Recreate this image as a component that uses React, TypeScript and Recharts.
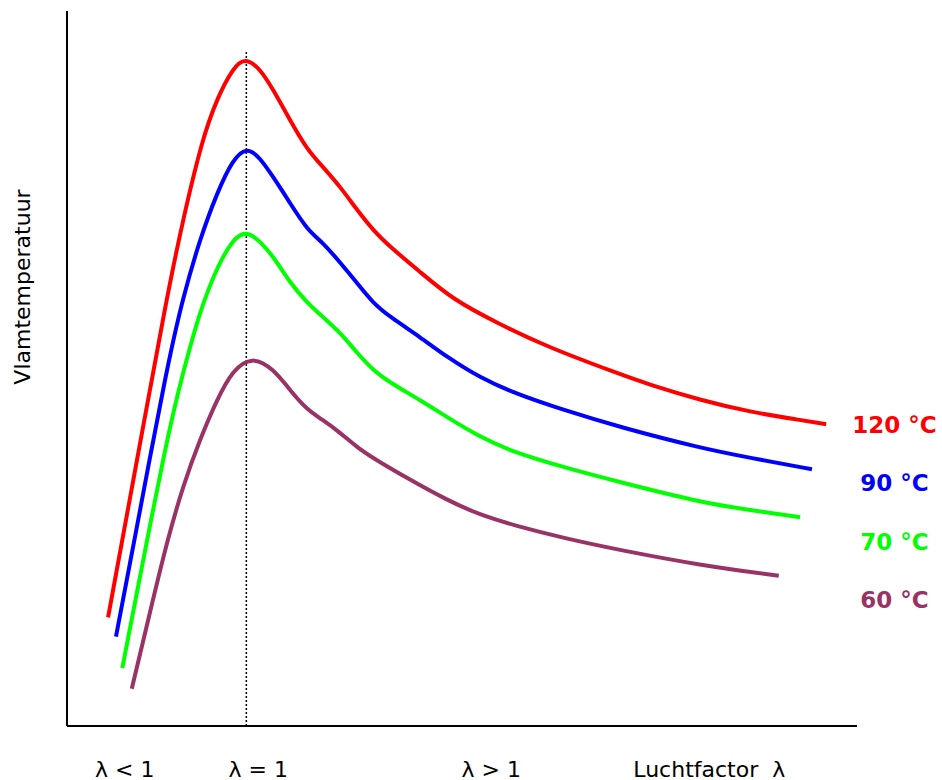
import React from 'react'
import { LineChart, Line, XAxis, YAxis, ReferenceLine, ReferenceDot } from 'recharts'

// x: luchtfactor positie (0-100), y: relatieve vlamtemperatuur (0-100)
const line120 = [
  { x: 5.2, y: 15.2 }, { x: 8.4, y: 34.4 }, { x: 12.7, y: 60.4 }, { x: 14.7, y: 70.9 },
  { x: 17.1, y: 82.0 }, { x: 19.0, y: 87.8 }, { x: 21.0, y: 92.0 }, { x: 22.5, y: 93.5 },
  { x: 24.4, y: 92.0 }, { x: 26.1, y: 89.0 }, { x: 28.2, y: 84.8 }, { x: 30.4, y: 80.6 },
  { x: 32.4, y: 78.2 }, { x: 34.6, y: 75.4 }, { x: 36.7, y: 72.2 }, { x: 38.7, y: 69.4 },
  { x: 40.9, y: 67.0 }, { x: 44.7, y: 63.5 }, { x: 48.9, y: 59.6 }, { x: 54.4, y: 56.4 },
  { x: 60.8, y: 53.0 }, { x: 70.0, y: 49.2 }, { x: 73.8, y: 47.7 }, { x: 80.1, y: 45.6 },
  { x: 86.5, y: 43.9 }, { x: 92.8, y: 42.8 }, { x: 96.1, y: 42.2 },
]

const line90 = [
  { x: 6.2, y: 12.5 }, { x: 8.4, y: 25.2 }, { x: 12.7, y: 50.5 }, { x: 14.7, y: 60.0 },
  { x: 16.8, y: 68.0 }, { x: 19.0, y: 74.6 }, { x: 21.0, y: 79.3 }, { x: 22.8, y: 81.0 },
  { x: 24.4, y: 79.5 }, { x: 26.1, y: 76.8 }, { x: 28.2, y: 73.2 }, { x: 30.4, y: 69.4 },
  { x: 32.4, y: 67.6 }, { x: 34.6, y: 64.8 }, { x: 36.7, y: 62.0 }, { x: 38.7, y: 59.2 },
  { x: 40.9, y: 57.2 }, { x: 44.7, y: 54.4 }, { x: 48.1, y: 51.6 }, { x: 52.3, y: 48.7 },
  { x: 56.5, y: 46.6 }, { x: 62.8, y: 44.2 }, { x: 70.0, y: 41.8 }, { x: 80.1, y: 38.9 },
  { x: 86.5, y: 37.5 }, { x: 94.3, y: 35.9 },
]

const line70 = [
  { x: 7.0, y: 8.1 }, { x: 8.4, y: 16.1 }, { x: 12.7, y: 40.6 }, { x: 14.7, y: 49.5 },
  { x: 16.8, y: 58.0 }, { x: 19.0, y: 64.2 }, { x: 21.0, y: 68.1 }, { x: 22.9, y: 69.6 },
  { x: 26.1, y: 65.8 }, { x: 28.2, y: 62.0 }, { x: 30.4, y: 59.2 }, { x: 32.4, y: 57.2 },
  { x: 34.6, y: 55.0 }, { x: 36.7, y: 52.2 }, { x: 38.7, y: 49.8 }, { x: 40.9, y: 48.0 },
  { x: 44.7, y: 45.6 }, { x: 48.1, y: 43.2 }, { x: 52.3, y: 40.4 }, { x: 56.5, y: 38.3 },
  { x: 62.8, y: 36.2 }, { x: 70.0, y: 34.1 }, { x: 80.1, y: 31.3 }, { x: 86.5, y: 30.2 },
  { x: 92.8, y: 29.2 },
]

const line60 = [
  { x: 8.2, y: 5.2 }, { x: 10.5, y: 15.9 }, { x: 12.7, y: 26.0 }, { x: 14.7, y: 33.6 },
  { x: 16.8, y: 40.0 }, { x: 19.0, y: 45.7 }, { x: 21.0, y: 49.8 }, { x: 23.4, y: 51.7 },
  { x: 26.1, y: 50.0 }, { x: 28.2, y: 47.0 }, { x: 30.4, y: 44.2 }, { x: 32.4, y: 42.8 },
  { x: 34.6, y: 41.0 }, { x: 36.7, y: 39.0 }, { x: 38.7, y: 37.5 }, { x: 43.0, y: 34.7 },
  { x: 48.1, y: 31.6 }, { x: 52.3, y: 29.5 }, { x: 56.5, y: 28.1 }, { x: 62.8, y: 26.3 },
  { x: 70.0, y: 24.6 }, { x: 80.1, y: 22.5 }, { x: 90.1, y: 21.0 },
]

const tickPositions = [7.3, 24.2, 53.7, 81.3]
const tickLabels = ['λ < 1', 'λ = 1', 'λ > 1', 'Luchtfactor  λ']

const lambdaOne = 22.7
const lambdaOneTop = 94.3

const series = [
  { name: '120 °C', data: line120, color: '#ff0000', labelX: 99.4, labelY: 42.1 },
  { name: '90 °C', data: line90, color: '#0000ff', labelX: 100.4, labelY: 34.0 },
  { name: '70 °C', data: line70, color: '#00ff00', labelX: 100.4, labelY: 25.7 },
  { name: '60 °C', data: line60, color: '#993366', labelX: 100.4, labelY: 17.6 },
]

const font = '"DejaVu Sans", Verdana, sans-serif'

function BottomTick(props: any) {
  const { x, y, index } = props
  return (
    <text
      x={x}
      y={y + 35}
      textAnchor='middle'
      dominantBaseline='central'
      fontFamily={font}
      fontSize={22}
      fill='#000'
      style={{ whiteSpace: 'pre' }}
    >
      {tickLabels[index]}
    </text>
  )
}

function YTitle(props: any) {
  const { viewBox } = props
  const cx = 22
  const cy = viewBox.y + 276
  return (
    <text
      x={cx}
      y={cy}
      transform={`rotate(-90 ${cx} ${cy})`}
      textAnchor='middle'
      dominantBaseline='central'
      fontFamily={font}
      fontSize={22}
      fill='#000'
    >
      Vlamtemperatuur
    </text>
  )
}

function seriesLabel(text: string, color: string) {
  return (props: any) => {
    const { viewBox } = props
    return (
      <text
        x={viewBox.x}
        y={viewBox.y}
        textAnchor='start'
        dominantBaseline='central'
        fontFamily={font}
        fontWeight='bold'
        fontSize={23}
        fill={color}
      >
        {text}
      </text>
    )
  }
}

export default function App() {
  return (
    <div style={{ position: 'absolute', left: 0, top: 0, width: 942, height: 780, background: '#fff' }}>
      <LineChart width={942} height={780} margin={{ top: 11, right: 85, bottom: 0, left: 0 }}>
        <XAxis
          type='number'
          dataKey='x'
          domain={[0, 100]}
          allowDataOverflow
          height={54}
          ticks={tickPositions}
          interval={0}
          tickLine={false}
          tick={<BottomTick />}
          axisLine={{ stroke: '#000', strokeWidth: 2 }}
        />
        <YAxis
          type='number'
          dataKey='y'
          domain={[0, 100]}
          allowDataOverflow
          width={67}
          tick={false}
          tickLine={false}
          axisLine={{ stroke: '#000', strokeWidth: 2 }}
          label={<YTitle />}
        />
        <ReferenceLine
          segment={[{ x: lambdaOne, y: 0 }, { x: lambdaOne, y: lambdaOneTop }]}
          stroke='#000'
          strokeWidth={1.5}
          strokeDasharray='2 2'
        />
        {series.map(s => (
          <Line
            key={s.name}
            data={s.data}
            dataKey='y'
            type='basis'
            stroke={s.color}
            strokeWidth={4}
            dot={false}
            activeDot={false}
            isAnimationActive={false}
          />
        ))}
        {series.map(s => (
          <ReferenceDot
            key={`lbl-${s.name}`}
            x={s.labelX}
            y={s.labelY}
            r={0}
            fill='none'
            stroke='none'
            ifOverflow='visible'
            label={seriesLabel(s.name, s.color)}
          />
        ))}
      </LineChart>
    </div>
  )
}
